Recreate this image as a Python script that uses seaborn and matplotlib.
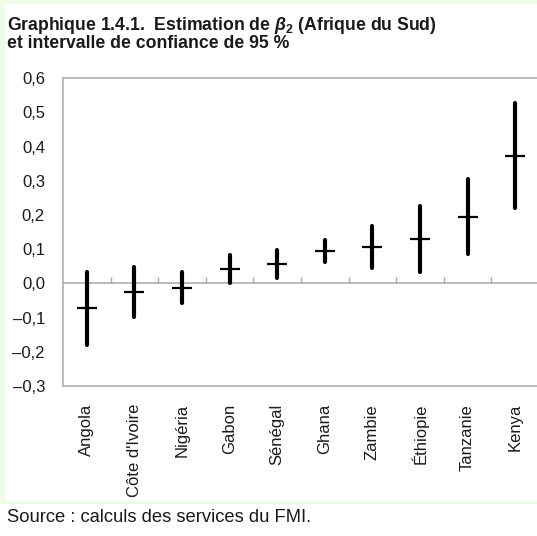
import matplotlib
matplotlib.use("Agg")
import matplotlib.pyplot as plt
import matplotlib.patches as mpatches
import seaborn as sns
import pandas as pd

countries = ["Angola", "Côte d'Ivoire", "Nigéria", "Gabon", "Sénégal",
             "Ghana", "Zambie", "Éthiopie", "Tanzanie", "Kenya"]
estimate = [-0.073, -0.025, -0.012, 0.041, 0.058, 0.095, 0.107, 0.131, 0.195, 0.374]
ci_low = [-0.180, -0.098, -0.058, 0.002, 0.015, 0.063, 0.044, 0.034, 0.086, 0.221]
ci_high = [0.034, 0.049, 0.034, 0.083, 0.097, 0.127, 0.168, 0.227, 0.304, 0.529]
yticks = [-0.3, -0.2, -0.1, 0.0, 0.1, 0.2, 0.3, 0.4, 0.5, 0.6]
ytick_labels = ["–0,3", "–0,2", "–0,1", "0,0", "0,1", "0,2", "0,3", "0,4", "0,5", "0,6"]

title = "Graphique 1.4.1.  Estimation de $\\beta_2$ (Afrique du Sud)\net intervalle de confiance de 95 %"
source = "Source : calculs des services du FMI."

rows = []
for c, e, lo, hi in zip(countries, estimate, ci_low, ci_high):
    for v in (lo, e, hi):
        rows.append({"pays": c, "beta": v})
df = pd.DataFrame(rows)

sns.set_theme(style="white")
plt.rcParams["font.family"] = ["Liberation Sans", "DejaVu Sans"]
plt.rcParams["mathtext.fontset"] = "custom"
plt.rcParams["mathtext.it"] = "Liberation Sans:italic:bold"
plt.rcParams["mathtext.rm"] = "Liberation Sans:bold"

W, H = 537, 536
fig = plt.figure(figsize=(W / 100, H / 100), dpi=100, facecolor="white")

green = "#eefbe6"
fig.patches.append(mpatches.Rectangle((0, (H - 504) / H), 1, 504 / H,
                                      transform=fig.transFigure, facecolor=green,
                                      edgecolor="none", zorder=-10))
fig.patches.append(mpatches.Rectangle((5 / W, (H - 501) / H), 1, 497 / H,
                                      transform=fig.transFigure, facecolor="white",
                                      edgecolor="none", zorder=-9))

left, right_px, top_px, bot_px = 63, 539, 78.3, 386
ax = fig.add_axes([left / W, (H - bot_px) / H, (right_px - left) / W, (bot_px - top_px) / H])
ax.set_facecolor("white")

sns.pointplot(data=df, x="pays", y="beta", order=countries, estimator="median",
              errorbar=("pi", 100), color="black", linestyle="none",
              marker="_", markersize=15, markeredgewidth=1.6,
              err_kws={"linewidth": 3.0}, ax=ax)

ax.set_ylim(-0.3, 0.6)
ax.set_xlim(-0.5, 9.5)
ax.set_yticks(yticks, labels=ytick_labels)
ax.set_xlabel("")
ax.set_ylabel("")

gray = "#a8a8a8"
for s in ["top", "left", "bottom", "right"]:
    ax.spines[s].set_color(gray)
    ax.spines[s].set_linewidth(1.1)
ax.spines["right"].set_visible(False)

ax.tick_params(axis="y", direction="in", length=4, width=1, color=gray,
               pad=13, labelsize=12, labelcolor="#1a1a1a")
ax.tick_params(axis="x", length=0, labelsize=12, pad=13, labelcolor="#1a1a1a")
for lab in ax.get_xticklabels():
    lab.set_rotation(90)
    lab.set_va("top")
    lab.set_ha("center")

# zero line with small separator ticks
zero_frac = (0 - (-0.3)) / (0.6 - (-0.3))
sec = ax.secondary_xaxis(zero_frac)
sec.set_xticks([i + 0.5 for i in range(len(countries) - 1)], labels=[])
sec.tick_params(axis="x", direction="in", length=4, width=1, color=gray)
sec.spines["bottom"].set_color(gray)
sec.spines["bottom"].set_linewidth(1.1)
for s in ["top", "left", "right"]:
    sec.spines[s].set_visible(False)

fig.text(7 / W, 1 - 15 / H, title, fontsize=12.7, fontweight="bold", va="top",
         ha="left", color="#1a1a1a", linespacing=0.92)
fig.text(7 / W, 1 - 518 / H, source, fontsize=13.2, va="center", ha="left",
         color="#1a1a1a")

fig.savefig("out.png", dpi=100, facecolor="white")
